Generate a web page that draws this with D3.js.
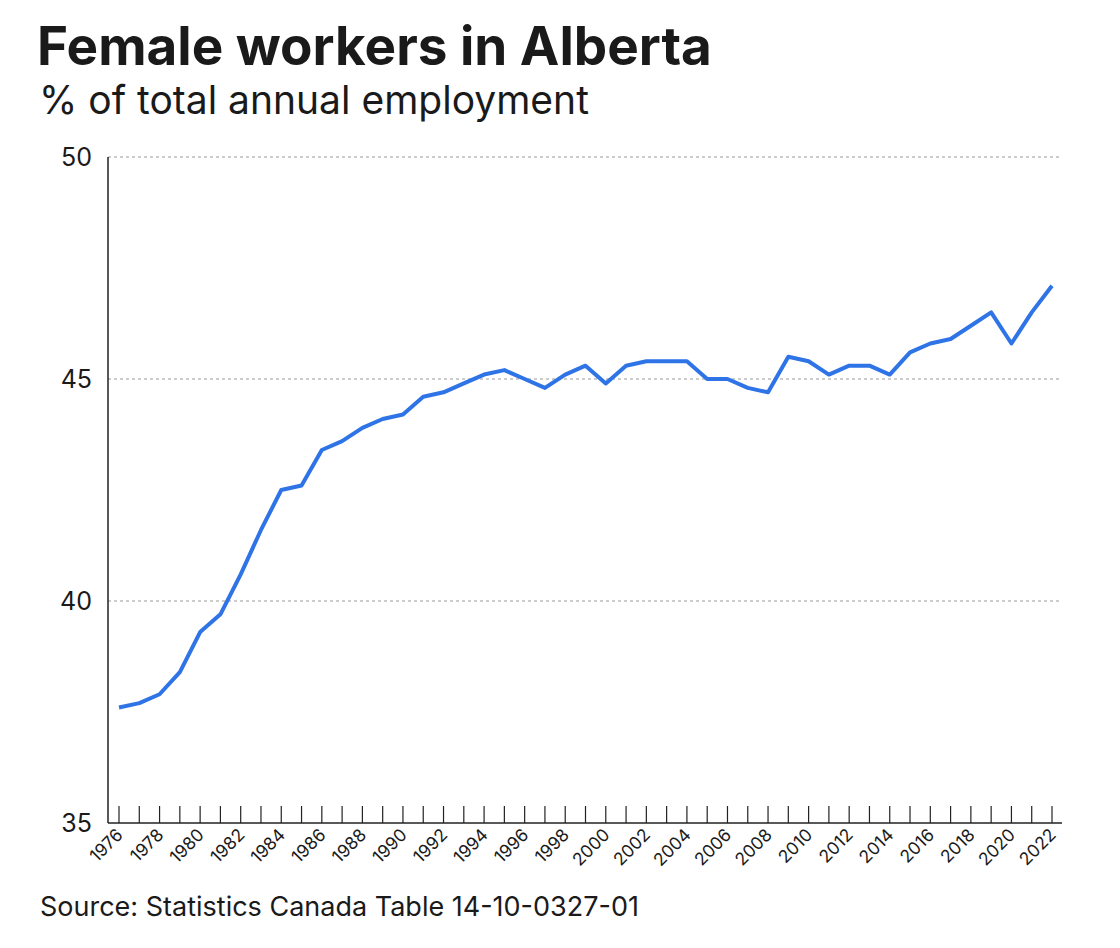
<!DOCTYPE html><html><head><meta charset="utf-8">
<script src="https://cdn.jsdelivr.net/npm/d3@7"></script>
<style>body{margin:0;background:#fff;font-family:Inter,sans-serif}</style></head><body>
<svg id="c" width="1120" height="948"></svg>
<script>
const years = d3.range(1976, 2023);
const values = [37.6,37.7,37.9,38.4,39.3,39.7,40.6,41.6,42.5,42.6,43.4,43.6,43.9,44.1,44.2,44.6,44.7,44.9,45.1,45.2,45.0,44.8,45.1,45.3,44.9,45.3,45.4,45.4,45.4,45.0,45.0,44.8,44.7,45.5,45.4,45.1,45.3,45.3,45.1,45.6,45.8,45.9,46.2,46.5,45.8,46.5,47.1];
const yTicks = [35,40,45,50];
const svg = d3.select("#c");
const x = d3.scaleLinear().domain([1976,2022]).range([119,1052]);
const y = d3.scaleLinear().domain([35,50]).range([823,157]);
svg.append("text").attr("x",37).attr("y",65).attr("font-size",53).attr("font-weight",700).attr("fill","#1a1a1a").text("Female workers in Alberta");
svg.append("text").attr("x",39).attr("y",114).attr("font-size",39).attr("fill","#1a1a1a").text("% of total annual employment");
svg.append("text").attr("x",40).attr("y",916).attr("font-size",27).attr("fill","#1a1a1a").text("Source: Statistics Canada Table 14-10-0327-01");
yTicks.forEach(t=>{
  if(t>35) svg.append("line").attr("x1",108).attr("x2",1060).attr("y1",y(t)).attr("y2",y(t)).attr("stroke","#999").attr("stroke-dasharray","3,3");
  svg.append("text").attr("x",92).attr("y",y(t)+9).attr("text-anchor","end").attr("font-size",25).attr("fill","#1a1a1a").text(t);
});
svg.append("line").attr("x1",108).attr("x2",108).attr("y1",157).attr("y2",823).attr("stroke","#222").attr("stroke-width",1.5);
svg.append("line").attr("x1",108).attr("x2",1062).attr("y1",823).attr("y2",823).attr("stroke","#222").attr("stroke-width",1.5);
years.forEach(yr=>{
  svg.append("line").attr("x1",x(yr)).attr("x2",x(yr)).attr("y1",823).attr("y2",806).attr("stroke","#222").attr("stroke-width",1.2);
  if(yr%2===0) svg.append("text").attr("transform",`translate(${x(yr)+5},${836}) rotate(-45)`).attr("text-anchor","end").attr("font-size",17.5).attr("fill","#1a1a1a").text(yr);
});
svg.append("path").datum(years.map((yr,i)=>[yr,values[i]])).attr("fill","none").attr("stroke","#2f74e6").attr("stroke-width",4).attr("stroke-linejoin","round")
  .attr("d",d3.line().x(d=>x(d[0])).y(d=>y(d[1])));
</script></body></html>
